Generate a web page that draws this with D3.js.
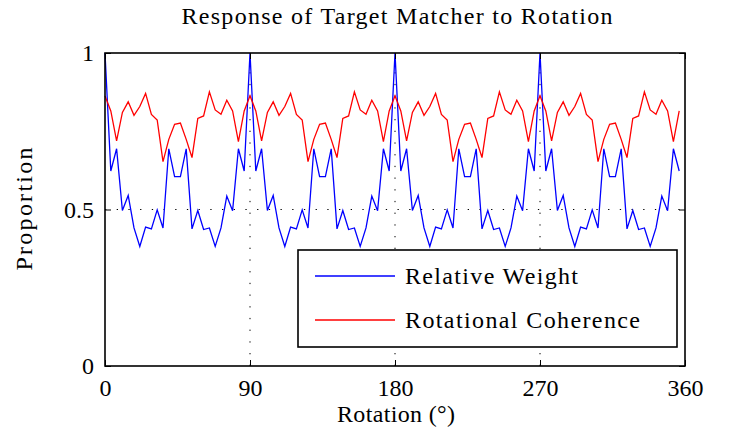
<!DOCTYPE html>
<html>
<head>
<meta charset="utf-8">
<script src="https://cdn.jsdelivr.net/npm/d3@7"></script>
<style>
  body { margin: 0; background: #fff; }
  text { font-family: "Liberation Serif", "Times New Roman", serif; fill: #000; }
</style>
</head>
<body>
<div id="chart"></div>
<script>
// sampled every 3.6 degrees, 0 .. 356.4
const stepDeg = 3.6;
const relativeWeight = [
  1.000, 0.623, 0.694, 0.497, 0.545, 0.441, 0.382, 0.444, 0.438, 0.499, 0.441, 0.694, 0.605, 0.605, 0.694, 0.438, 0.497, 0.436, 0.441, 0.382, 0.441, 0.543, 0.496, 0.694, 0.623,
  1.000, 0.623, 0.694, 0.497, 0.545, 0.441, 0.382, 0.444, 0.438, 0.499, 0.441, 0.694, 0.605, 0.605, 0.694, 0.438, 0.497, 0.436, 0.441, 0.382, 0.441, 0.543, 0.496, 0.694, 0.623,
  1.000, 0.623, 0.694, 0.497, 0.545, 0.441, 0.382, 0.444, 0.438, 0.499, 0.441, 0.694, 0.605, 0.605, 0.694, 0.438, 0.497, 0.436, 0.441, 0.382, 0.441, 0.543, 0.496, 0.694, 0.623,
  1.000, 0.623, 0.694, 0.497, 0.545, 0.441, 0.382, 0.444, 0.438, 0.499, 0.441, 0.694, 0.605, 0.605, 0.694, 0.438, 0.497, 0.436, 0.441, 0.382, 0.441, 0.543, 0.496, 0.694, 0.623
];
const rotationalCoherence = [
  0.863, 0.815, 0.719, 0.810, 0.844, 0.801, 0.829, 0.871, 0.804, 0.786, 0.653, 0.724, 0.772, 0.776, 0.724, 0.666, 0.791, 0.799, 0.876, 0.818, 0.804, 0.849, 0.815, 0.717, 0.815,
  0.863, 0.815, 0.719, 0.810, 0.844, 0.801, 0.829, 0.871, 0.804, 0.786, 0.653, 0.724, 0.772, 0.776, 0.724, 0.666, 0.791, 0.799, 0.876, 0.818, 0.804, 0.849, 0.815, 0.717, 0.815,
  0.863, 0.815, 0.719, 0.810, 0.844, 0.801, 0.829, 0.871, 0.804, 0.786, 0.653, 0.724, 0.772, 0.776, 0.724, 0.666, 0.791, 0.799, 0.876, 0.818, 0.804, 0.849, 0.815, 0.717, 0.815,
  0.863, 0.815, 0.719, 0.810, 0.844, 0.801, 0.829, 0.871, 0.804, 0.786, 0.653, 0.724, 0.772, 0.776, 0.724, 0.666, 0.791, 0.799, 0.876, 0.818, 0.804, 0.849, 0.815, 0.717, 0.815
];
const xTicks = [0, 90, 180, 270, 360];
const yTicks = [0, 0.5, 1];
const xGrid = [90, 180, 270];
const yGrid = [0.5];
const seriesNames = ["Relative Weight", "Rotational Coherence"];
const seriesColors = ["#0000ff", "#ff0000"];

const width = 731, height = 434;
const margin = { top: 53, right: 46, bottom: 68, left: 105 };

const svg = d3.select("#chart").append("svg")
  .attr("width", width)
  .attr("height", height);

const x = d3.scaleLinear().domain([0, 360]).range([margin.left, width - margin.right]);
const y = d3.scaleLinear().domain([0, 1]).range([height - margin.bottom, margin.top]);

// dotted grid
svg.append("g").selectAll("line")
  .data(xGrid).enter().append("line")
  .attr("x1", d => x(d)).attr("x2", d => x(d))
  .attr("y1", y(0)).attr("y2", y(1))
  .attr("stroke", "#000").attr("stroke-width", 1)
  .attr("stroke-dasharray", "1.3,10.4");
svg.append("g").selectAll("line")
  .data(yGrid).enter().append("line")
  .attr("x1", x(0)).attr("x2", x(360))
  .attr("y1", d => y(d)).attr("y2", d => y(d))
  .attr("stroke", "#000").attr("stroke-width", 1)
  .attr("stroke-dasharray", "1.3,10.4");

// series
const line = d3.line()
  .x((d, i) => x(i * stepDeg))
  .y(d => y(d));

[relativeWeight, rotationalCoherence].forEach((s, k) => {
  svg.append("path")
    .datum(s)
    .attr("fill", "none")
    .attr("stroke", seriesColors[k])
    .attr("stroke-width", 1.3)
    .attr("stroke-linejoin", "miter")
    .attr("d", line);
});

// axes with inward ticks
const xAxis = svg.append("g")
  .attr("transform", `translate(0,${y(0)})`)
  .call(d3.axisBottom(x).tickValues(xTicks).tickSizeInner(-6).tickSizeOuter(0).tickPadding(13));
const xTop = svg.append("g")
  .attr("transform", `translate(0,${y(1)})`)
  .call(d3.axisTop(x).tickValues(xTicks).tickSizeInner(-6).tickSizeOuter(0).tickFormat(""));
const yAxis = svg.append("g")
  .attr("transform", `translate(${x(0)},0)`)
  .call(d3.axisLeft(y).tickValues(yTicks).tickFormat(d => d).tickSizeInner(-6).tickSizeOuter(0).tickPadding(11));
const yRight = svg.append("g")
  .attr("transform", `translate(${x(360)},0)`)
  .call(d3.axisRight(y).tickValues(yTicks).tickSizeInner(-6).tickSizeOuter(0).tickFormat(""));

[xAxis, xTop, yAxis, yRight].forEach(g => {
  g.select(".domain").remove();
  g.selectAll(".tick line").attr("stroke", "#000").attr("stroke-width", 1);
  g.selectAll(".tick text")
    .attr("font-family", "'Liberation Serif', serif")
    .attr("font-size", 24)
    .attr("fill", "#000");
});
yAxis.selectAll(".tick text").attr("dy", "0.33em");

// frame
svg.append("rect")
  .attr("x", x(0)).attr("y", y(1))
  .attr("width", x(360) - x(0)).attr("height", y(0) - y(1))
  .attr("fill", "none").attr("stroke", "#000").attr("stroke-width", 1.6);

// title and axis labels
svg.append("text")
  .attr("x", 397).attr("y", 24)
  .attr("text-anchor", "middle")
  .attr("font-size", 24)
  .attr("textLength", 431).attr("lengthAdjust", "spacing")
  .text("Response of Target Matcher to Rotation");

svg.append("text")
  .attr("x", 396).attr("y", 422)
  .attr("text-anchor", "middle")
  .attr("font-size", 24)
  .attr("textLength", 118).attr("lengthAdjust", "spacing")
  .text("Rotation (°)");

svg.append("text")
  .attr("transform", "translate(32,209) rotate(-90)")
  .attr("text-anchor", "middle")
  .attr("font-size", 24)
  .attr("textLength", 123).attr("lengthAdjust", "spacing")
  .text("Proportion");

// legend
const legend = svg.append("g");
legend.append("rect")
  .attr("x", 298).attr("y", 250)
  .attr("width", 379).attr("height", 97)
  .attr("fill", "#fff").attr("stroke", "#000").attr("stroke-width", 1.6);

const legendW = [173, 235];
seriesNames.forEach((name, k) => {
  const ly = 276 + k * 44;
  legend.append("line")
    .attr("x1", 315).attr("x2", 395)
    .attr("y1", ly).attr("y2", ly)
    .attr("stroke", seriesColors[k]).attr("stroke-width", 1.3);
  legend.append("text")
    .attr("x", 405).attr("y", ly + 8)
    .attr("font-size", 24)
    .attr("textLength", legendW[k]).attr("lengthAdjust", "spacing")
    .text(name);
});
</script>
</body>
</html>
